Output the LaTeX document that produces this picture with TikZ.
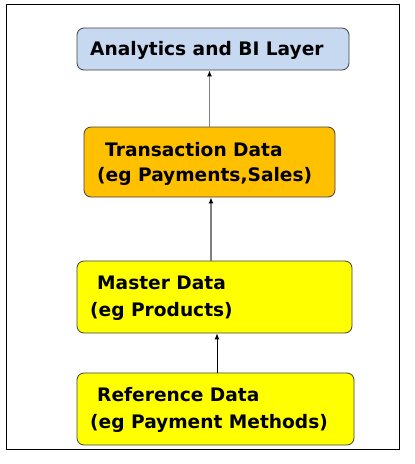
\documentclass[tikz,border=0pt]{standalone}
\usepackage{fontspec}
\setmainfont{DejaVu Sans}
\usetikzlibrary{arrows.meta}
\definecolor{bluefill}{HTML}{C6D9F1}
\definecolor{orangefill}{HTML}{FFC000}
\definecolor{yellowfill}{HTML}{FFFF00}
\definecolor{edgegrey}{HTML}{404040}
\definecolor{linegrey}{HTML}{7F7F7F}
\tikzset{
  box/.style={draw=edgegrey, line width=0.8pt, rounded corners=7pt, inner sep=0pt},
  lbl/.style={font=\fontsize{18.6pt}{20pt}\selectfont\bfseries, inner sep=0pt, anchor=base west},
  arr/.style={line width=1.4pt, -{Latex[length=6pt,width=5pt,black]}},
}
\begin{document}
\begin{tikzpicture}[x=1pt,y=-1pt]
\useasboundingbox (0,0) rectangle (415,464);
\node[draw=black, line width=1pt, inner sep=0pt, minimum width=393pt, minimum height=445pt] (frame) at (202.5,226.5) {};
\node[box, fill=bluefill, minimum width=272pt, minimum height=42pt] (ana) at (213,49) {};
\node[box, fill=orangefill, minimum width=251pt, minimum height=70pt] (trans) at (209.5,162) {};
\node[box, fill=yellowfill, minimum width=275pt, minimum height=72pt] (master) at (214.5,297) {};
\node[box, fill=yellowfill, minimum width=277pt, minimum height=72pt] (ref) at (215.5,409) {};
\node[lbl] (t0) at (90,55) {Analytics and BI Layer};
\node[lbl] (t1) at (105,156) {Transaction Data};
\node[lbl] (t2) at (97,181) {(eg Payments,Sales)};
\node[lbl] (t3) at (97,289) {Master Data};
\node[lbl] (t4) at (90,316) {(eg Products)};
\node[lbl] (t5) at (97,401) {Reference Data};
\node[lbl] (t6) at (90,428) {(eg Payment Methods)};
\draw[arr, draw=linegrey] (trans.north) -- (trans.north |- ana.south);
\draw[arr, draw=linegrey] ([xshift=1.5pt]trans.south |- master.north) -- ([xshift=1.5pt]trans.south);
\draw[arr, draw=black, line width=1pt] ([xshift=1.5pt]ref.north) -- ([xshift=1.5pt]ref.north |- master.south);
\end{tikzpicture}
\end{document}
